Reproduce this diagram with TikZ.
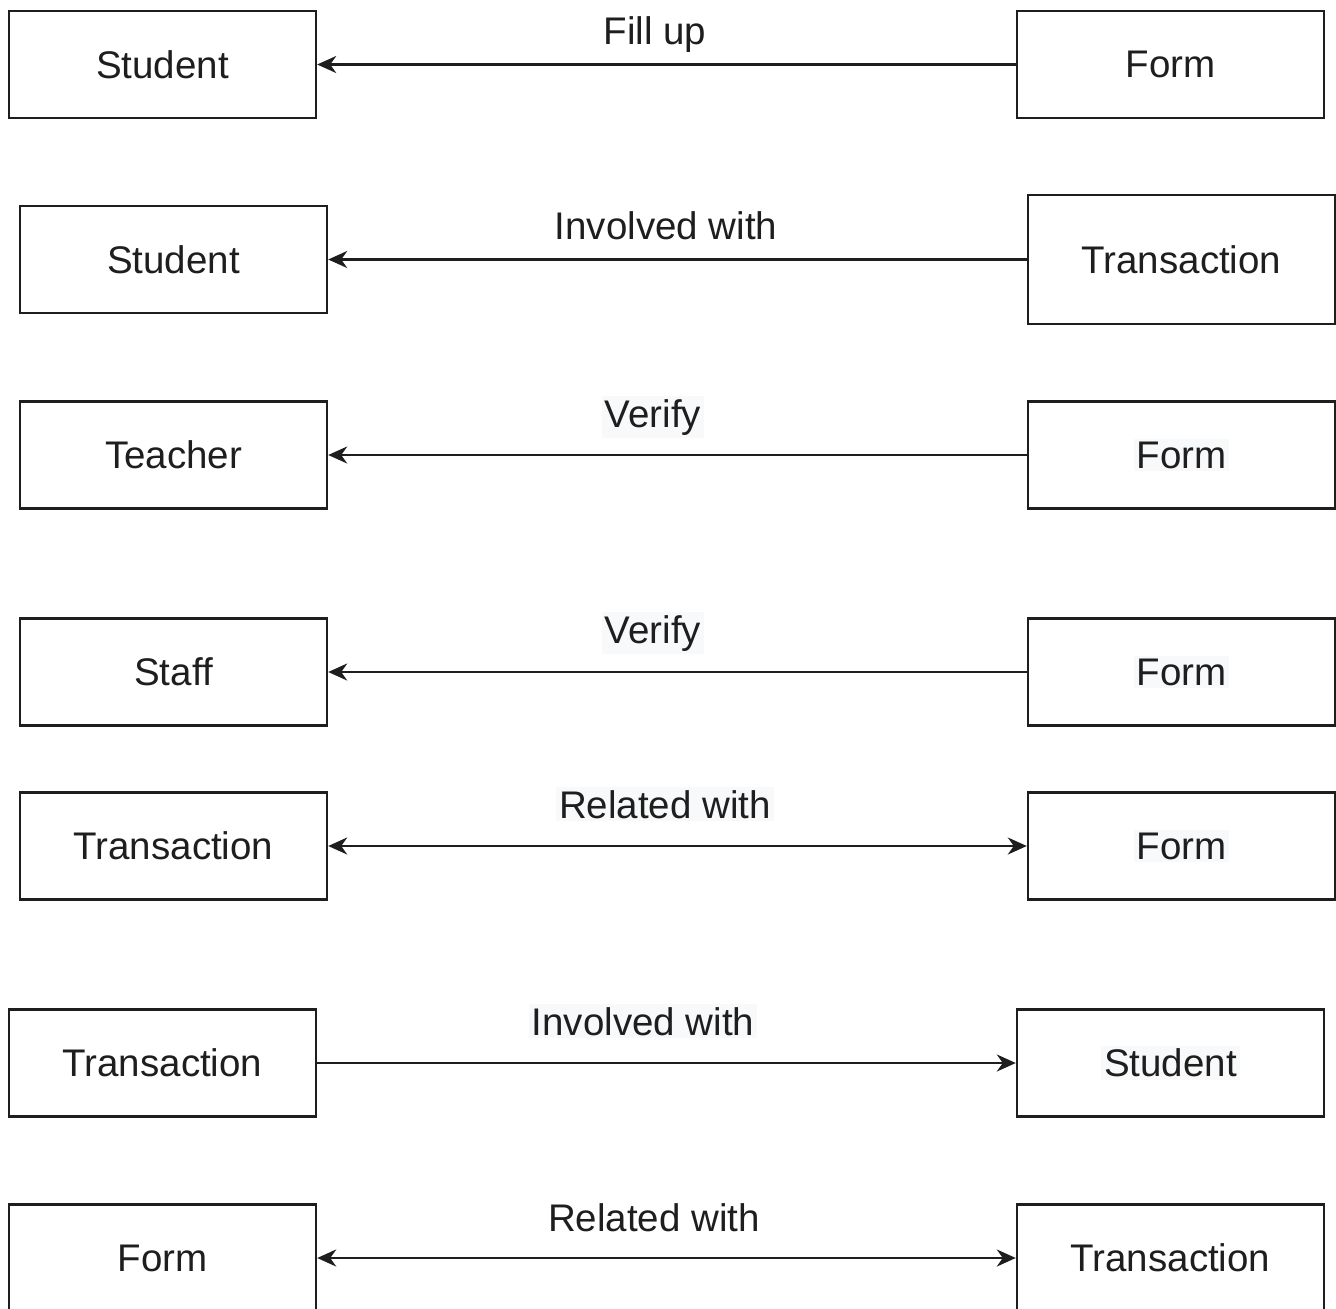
\documentclass[tikz,border=0pt]{standalone}
\usepackage{fontspec}
\setmainfont{Liberation Sans}
\usetikzlibrary{arrows.meta}
\definecolor{hlbg}{HTML}{F8F9FA}
\definecolor{ink}{HTML}{1E1E1E}
\newcommand\hlt[1]{{\setlength\fboxsep{3pt}\colorbox{hlbg}{#1}}}
\tikzset{
  entity/.style={draw=ink, line width=2.4pt, minimum width=307pt, minimum height=107pt,
    inner sep=0pt, text=ink, font=\fontsize{38.5}{46}\selectfont},
  rel/.style={draw=ink, line width=2.4pt},
  tip/.style={-{Stealth[length=19pt,width=17pt,inset=6pt]}},
  tips/.style={{Stealth[length=19pt,width=17pt,inset=6pt]}-{Stealth[length=19pt,width=17pt,inset=6pt]}},
  lbl/.style={anchor=base, inner sep=0pt, text=ink, font=\fontsize{38.5}{46}\selectfont},
}
\begin{document}
\begin{tikzpicture}[x=1pt,y=-1pt]
\useasboundingbox (0,0) rectangle (1336,1309);

% Student fills up form
\node[entity] (s1) at (162.5,64.5) {Student};
\node[entity] (f1) at (1170.5,64.5) {Form};
\draw[rel,tip] (f1) -- (s1);
\node[lbl] (l1) at (655,44) {Fill up};

% Student involved with transaction
\node[entity] (s2) at (173.5,259.5) {Student};
\node[entity, minimum height=129pt] (t2) at (1181.5,259.5) {Transaction};
\draw[rel,tip] (t2) -- (s2);
\node[lbl] (l2) at (666,239) {Involved with};

% Teacher verifies form
\node[entity] (te3) at (173.5,455) {Teacher};
\node[entity] (f3) at (1181.5,455) {\hlt{Form}};
\draw[rel,tip] (f3) -- (te3);
\node[lbl] (l3) at (653,427) {\hlt{Verify}};

% Staff verifies form
\node[entity] (st4) at (173.5,672) {Staff};
\node[entity] (f4) at (1181.5,672) {\hlt{Form}};
\draw[rel,tip] (f4) -- (st4);
\node[lbl] (l4) at (653,643) {\hlt{Verify}};

% Transaction related with form
\node[entity] (t5) at (173.5,846) {Transaction};
\node[entity] (f5) at (1181.5,846) {\hlt{Form}};
\draw[rel,tips] (t5) -- (f5);
\node[lbl] (l5) at (665,818) {\hlt{Related with}};

% Transaction involved with student
\node[entity] (t6) at (162.5,1063) {Transaction};
\node[entity] (s6) at (1170.5,1063) {\hlt{Student}};
\draw[rel,tip] (t6) -- (s6);
\node[lbl] (l6) at (643,1035) {\hlt{Involved with}};

% Form related with transaction
\node[entity] (f7) at (162.5,1258) {Form};
\node[entity] (t7) at (1170.5,1258) {Transaction};
\draw[rel,tips] (f7) -- (t7);
\node[lbl] (l7) at (654,1231) {Related with};
\end{tikzpicture}
\end{document}
